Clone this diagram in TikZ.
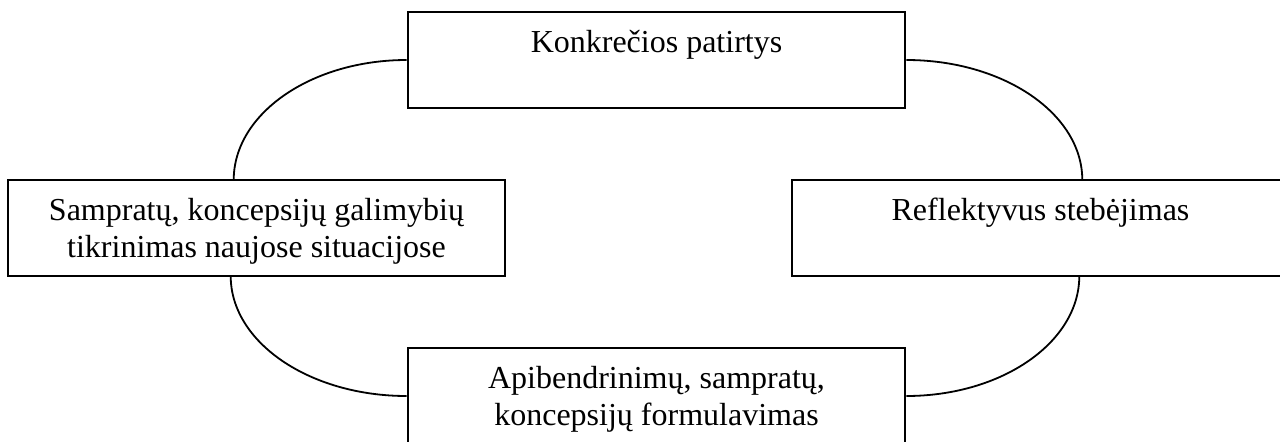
\documentclass[tikz,border=0pt]{standalone}
\usepackage{fontspec}
\setmainfont{Liberation Serif}
\begin{document}
\begin{tikzpicture}[x=0.5pt,y=0.5pt,
  box/.style={draw=black, line width=1.3pt, minimum width=248.5pt, minimum height=48pt, inner sep=0pt, fill=none},
  lbl/.style={anchor=base, inner sep=0pt, font=\fontsize{16}{18.5}\selectfont},
  link/.style={draw=black, line width=0.9pt}]
\useasboundingbox (0,0) rectangle (1280,441);
\clip (0,0) rectangle (1280,441);
% boxes
\node[box] (top) at (656.5,381) {};
\node[box] (left) at (256.5,213) {};
\node[box] (right) at (1040.5,213) {};
\node[box] (bottom) at (656.5,45) {};
% texts
\node[lbl] (t1) at (656.5,389) {Konkrečios patirtys};
\node[lbl] (l1) at (256.5,221) {Sampratų, koncepsijų galimybių};
\node[lbl] (l2) at (256.5,184) {tikrinimas naujose situacijose};
\node[lbl] (r1) at (1040.5,221) {Reflektyvus stebėjimas};
\node[lbl] (b1) at (656.5,53) {Apibendrinimų, sampratų,};
\node[lbl] (b2) at (656.5,16) {koncepsijų formulavimas};
% connecting arcs
\draw[link] (top.west) arc[start angle=90, end angle=180, x radius=86.5pt, y radius=60pt];
\draw[link] (top.east) arc[start angle=90, end angle=0, x radius=88pt, y radius=60pt];
\draw[link] (bottom.west) arc[start angle=270, end angle=180, x radius=88pt, y radius=60pt];
\draw[link] (bottom.east) arc[start angle=270, end angle=360, x radius=86.5pt, y radius=60pt];
\end{tikzpicture}
\end{document}
